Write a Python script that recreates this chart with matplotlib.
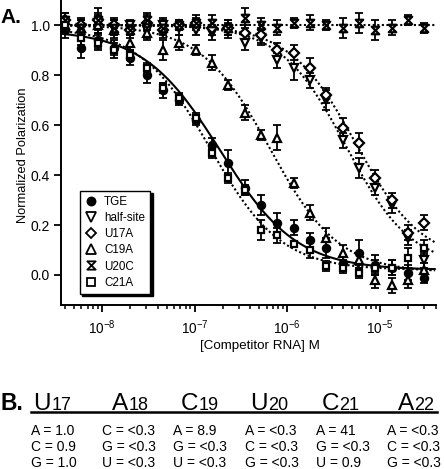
import numpy as np
import matplotlib
matplotlib.use('Agg')
import matplotlib.pyplot as plt
from matplotlib.path import Path
from matplotlib.lines import Line2D
from matplotlib.ticker import FixedLocator, LogLocator, NullFormatter

plt.rcParams['font.family'] = ['Liberation Sans', 'DejaVu Sans']
plt.rcParams['mathtext.fontset'] = 'custom'
plt.rcParams['mathtext.rm'] = 'Liberation Sans'
plt.rcParams['mathtext.it'] = 'Liberation Sans:italic'
plt.rcParams['mathtext.bf'] = 'Liberation Sans:bold'

# ---------------- data ----------------
conc = [4.0e-9, 6.0e-9, 9.0e-9, 1.35e-8, 2.03e-8, 3.04e-8, 4.57e-8, 6.85e-8,
        1.03e-7, 1.54e-7, 2.31e-7, 3.47e-7, 5.2e-7, 7.8e-7, 1.17e-6, 1.756e-6,
        2.63e-6, 3.95e-6, 5.93e-6, 8.89e-6, 1.333e-5, 2.0e-5, 3.0e-5]

tge = [0.98, 0.91, 0.94, 0.91, 0.87, 0.80, 0.74, 0.70, 0.62, 0.52, 0.45, 0.35,
       0.28, 0.21, 0.19, 0.14, 0.11, 0.05, 0.09, 0.04, 0.03, 0.01, -0.01]
tge_err = [0.03, 0.04, 0.03, 0.03, 0.03, 0.03, 0.03, 0.02, 0.02, 0.03, 0.05, 0.03,
           0.04, 0.04, 0.03, 0.03, 0.04, 0.03, 0.05, 0.04, 0.03, 0.03, 0.02]

half_site = [1.00, 0.99, 1.01, 0.99, 1.00, 0.98, 1.00, 0.99, 0.98, 0.97, 0.98, 0.93,
             0.95, 0.86, 0.83, 0.78, 0.70, 0.54, 0.43, 0.35, 0.28, 0.15, 0.06]
half_site_err = [0.03, 0.03, 0.03, 0.03, 0.02, 0.03, 0.03, 0.03, 0.02, 0.03, 0.03, 0.03,
                 0.03, 0.03, 0.05, 0.03, 0.04, 0.03, 0.04, 0.03, 0.03, 0.03, 0.03]

u17a = [1.02, 1.00, 1.02, 1.00, 0.98, 1.01, 0.98, 1.00, 1.01, 0.99, 0.99, 0.97,
        0.96, 0.90, 0.89, 0.83, 0.72, 0.59, 0.53, 0.39, 0.30, 0.17, 0.21]
u17a_err = [0.03, 0.03, 0.05, 0.03, 0.03, 0.03, 0.03, 0.02, 0.03, 0.03, 0.03, 0.03,
            0.03, 0.03, 0.03, 0.04, 0.03, 0.04, 0.04, 0.03, 0.03, 0.03, 0.03]

c19a = [1.00, 0.99, 1.00, 0.98, 0.93, 0.97, 0.90, 0.93, 0.90, 0.85, 0.76, 0.65,
        0.56, 0.55, 0.37, 0.25, 0.15, 0.09, 0.06, -0.02, -0.04, -0.02, 0.02]
c19a_err = [0.03, 0.03, 0.03, 0.03, 0.03, 0.03, 0.04, 0.03, 0.02, 0.03, 0.02, 0.03,
            0.02, 0.05, 0.02, 0.03, 0.04, 0.03, 0.03, 0.03, 0.03, 0.03, 0.03]

u20c = [1.02, 0.99, 1.02, 0.99, 0.98, 1.02, 0.99, 1.00, 1.01, 1.01, 0.99, 1.03,
        1.00, 0.99, 1.01, 1.01, 1.00, 0.99, 1.01, 0.98, 0.99, 1.02, 0.99]
u20c_err = [0.03, 0.03, 0.03, 0.03, 0.02, 0.03, 0.03, 0.02, 0.02, 0.03, 0.03, 0.04,
            0.03, 0.03, 0.02, 0.03, 0.02, 0.04, 0.04, 0.04, 0.03, 0.02, 0.02]

c21a = [1.00, 0.95, 0.93, 0.90, 0.88, 0.83, 0.75, 0.71, 0.63, 0.49, 0.39, 0.34,
        0.18, 0.16, 0.125, 0.10, 0.036, 0.03, 0.01, 0.03, 0.03, 0.07, 0.11]
c21a_err = [0.03, 0.03, 0.03, 0.03, 0.02, 0.02, 0.02, 0.02, 0.02, 0.02, 0.02, 0.02,
            0.04, 0.03, 0.01, 0.03, 0.02, 0.02, 0.02, 0.03, 0.03, 0.04, 0.03]

series_names = ['TGE', 'half-site', 'U17A', 'C19A', 'U20C', 'C21A']

# Hill fit parameters: top, bottom, IC50, slope
fit_tge = (0.98, 0.02, 1.87e-7, 1.05)
fit_half = (1.00, 0.03, 4.3e-6, 1.23)
fit_u17a = (1.00, 0.05, 5.5e-6, 1.21)
fit_c19a = (1.00, 0.01, 6.5e-7, 1.17)
fit_u20c = (1.00, 1.00, 1e-3, 1.0)
fit_c21a = (0.99, 0.02, 1.48e-7, 1.14)

# Panel B table
hdr_letters = ['U', 'A', 'C', 'U', 'C', 'A']
hdr_numbers = ['17', '18', '19', '20', '21', '22']
table_rows = [
    ['A = 1.0', 'C = <0.3', 'A = 8.9', 'A = <0.3', 'A = 41', 'A = <0.3'],
    ['C = 0.9', 'G = <0.3', 'G = <0.3', 'C = <0.3', 'G = <0.3', 'C = <0.3'],
    ['G = 1.0', 'U = <0.3', 'U = <0.3', 'G = <0.3', 'U = 0.9', 'G = <0.3'],
]

# ---------------- figure ----------------
W, H = 444, 469
fig = plt.figure(figsize=(W / 100, H / 100), dpi=100)

def fx(x):
    return x / W

def fy(y):
    return 1 - y / H

ax_w = 435.8 - 61
ax_h = 305
ax = fig.add_axes([fx(61), fy(305), ax_w / W, ax_h / H])
ax.set_xscale('log')
ax.set_xlim(3.61e-9, 4.0e-5)
ax.set_ylim(-0.12, 1.10)

for s in ['top', 'right']:
    ax.spines[s].set_visible(False)
for s in ['left', 'bottom']:
    ax.spines[s].set_linewidth(1.4)

def hill(x, p):
    top, bot, ic, n = p
    return bot + (top - bot) / (1 + (x / ic) ** n)

xs = np.logspace(np.log10(3.61e-9), np.log10(3.9e-5), 400)
dot = (0, (1, 1.2))
for p in [fit_u20c, fit_half, fit_u17a, fit_c19a, fit_c21a]:
    ax.plot(xs, hill(xs, p), color='black', lw=1.5, ls=dot, zorder=2)
ax.plot(xs, hill(xs, fit_tge), color='black', lw=1.5, ls='-', zorder=2)

hourglass = Path([(-1, 1), (1, 1), (-1, -1), (1, -1), (-1, 1)],
                 [Path.MOVETO, Path.LINETO, Path.LINETO, Path.LINETO, Path.CLOSEPOLY])

styles = [
    (tge, tge_err, 'o', 'black', 5.2),
    (half_site, half_site_err, 'v', 'white', 6.0),
    (u17a, u17a_err, 'D', 'white', 4.8),
    (c19a, c19a_err, '^', 'white', 6.0),
    (u20c, u20c_err, hourglass, 'white', 5.4),
    (c21a, c21a_err, 's', 'white', 5.0),
]
handles = []
for (vals, err, m, fc, ms), name in zip(styles, series_names):
    ax.errorbar(conc, vals, yerr=err, fmt='none', ecolor='black',
                elinewidth=1.3, capsize=2.7, capthick=1.3, zorder=3)
    ax.plot(conc, vals, ls='none', marker=m, ms=ms, mfc=fc, mec='black',
            mew=1.6, zorder=4)
    handles.append(Line2D([], [], ls='none', marker=m, ms=ms + 0.6, mfc=fc,
                          mec='black', mew=1.3, label=name))

ax.set_yticks([0.0, 0.2, 0.4, 0.6, 0.8, 1.0])
ax.set_yticklabels(['0.0', '0.2', '0.4', '0.6', '0.8', '1.0'], fontsize=10)
ax.xaxis.set_major_locator(FixedLocator([1e-8, 1e-7, 1e-6, 1e-5]))
ax.set_xticklabels([r'$10^{-8}$', r'$10^{-7}$', r'$10^{-6}$', r'$10^{-5}$'], fontsize=9.8)
ax.xaxis.set_minor_locator(LogLocator(base=10, subs=np.arange(2, 10), numticks=20))
ax.xaxis.set_minor_formatter(NullFormatter())
ax.tick_params(axis='both', which='major', direction='out', length=5, width=1.3)
ax.tick_params(axis='x', which='minor', direction='out', length=3, width=1.1)
ax.tick_params(axis='x', which='major', pad=5)
ax.tick_params(axis='y', which='major', pad=3)

ax.set_ylabel('Normalized Polarization', fontsize=9.3)
ax.yaxis.set_label_coords(-(61 - 29) / ax_w, 0.49)
ax.set_xlabel('[Competitor RNA] M', fontsize=9.6)
ax.xaxis.set_label_coords((260 - 61) / ax_w, -(349 - 305) / ax_h)
ax.xaxis.label.set_va('baseline')

leg = ax.legend(handles=handles, loc='lower left', bbox_to_anchor=(0.05, 0.036),
                borderaxespad=0, fontsize=8.4, frameon=True, fancybox=False,
                labelspacing=0.36, handlelength=1.1, handletextpad=0.55,
                borderpad=0.45,
                shadow={'ox': 1.5, 'oy': -1.5, 'facecolor': 'black',
                        'edgecolor': 'black', 'alpha': 1})
leg.get_frame().set_edgecolor('black')
leg.get_frame().set_linewidth(1.0)

fig.text(fx(0), fy(23), 'A.', fontsize=15, fontweight='bold', ha='left', va='baseline')

# ---------------- panel B ----------------
fig.text(fx(0), fy(410), 'B.', fontsize=16.5, fontweight='bold', ha='left', va='baseline')
splits = [51, 128.5, 198, 268, 339, 414]
for xs_, L, N in zip(splits, hdr_letters, hdr_numbers):
    fig.text(fx(xs_), fy(409.5), L, fontsize=17.5, ha='right', va='baseline')
    fig.text(fx(xs_ + 0.5), fy(409.5), N, fontsize=13, ha='left', va='baseline')
fig.add_artist(Line2D([fx(31), fx(437)], [fy(412.3), fy(412.3)], color='black', lw=1.8))

col_x = [31, 102, 173, 245, 316, 387]
row_y = [435, 451, 467]
for r, row in enumerate(table_rows):
    for c, txt in enumerate(row):
        fig.text(fx(col_x[c]), fy(row_y[r]), txt, fontsize=10, ha='left', va='baseline')

fig.savefig('out.png', dpi=100)
